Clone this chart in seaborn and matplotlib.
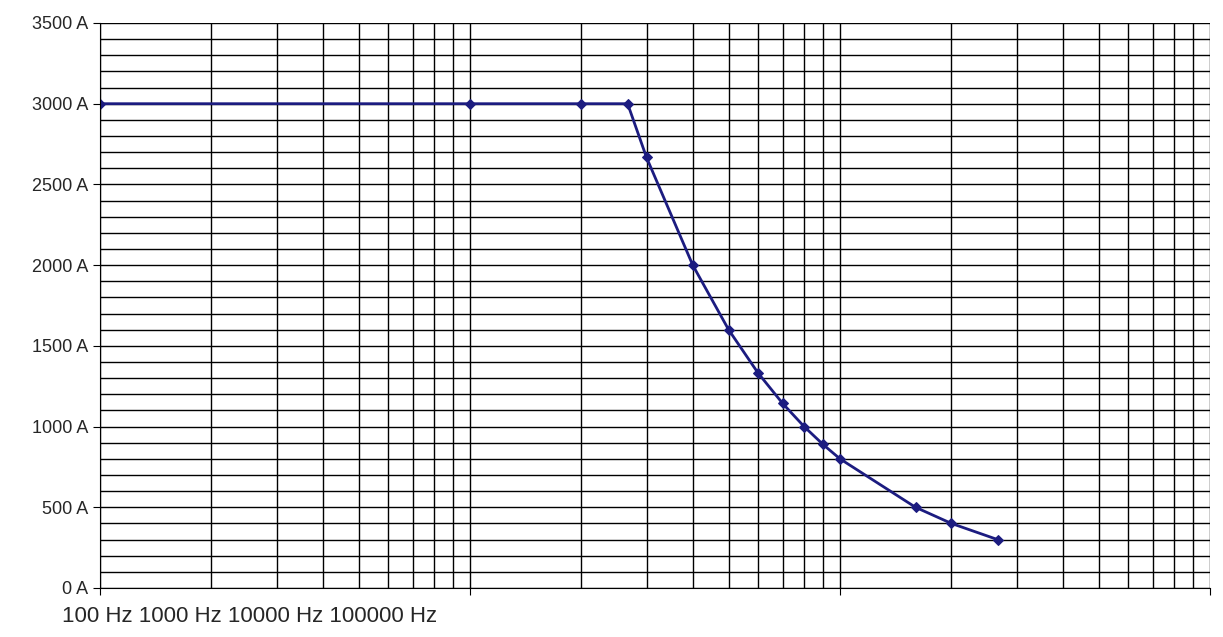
import matplotlib
matplotlib.use("Agg")
import matplotlib.pyplot as plt
import seaborn as sns
import numpy as np
import pandas as pd

freq_hz = [100, 1000, 2000, 2667, 3000, 4000, 5000, 6000, 7000, 8000, 9000, 10000, 16000, 20000, 26667]
current_a = [3000, 3000, 3000, 3000, 2667, 2000, 1600, 1333, 1143, 1000, 889, 800, 500, 400, 300]
y_ticks = [0, 500, 1000, 1500, 2000, 2500, 3000, 3500]
y_labels = ["0 A", "500 A", "1000 A", "1500 A", "2000 A", "2500 A", "3000 A", "3500 A"]
x_label_text = "100 Hz 1000 Hz 10000 Hz 100000 Hz"

sns.set_style("white")
plt.rcParams['font.family'] = ['Liberation Sans', 'DejaVu Sans']
fig = plt.figure(figsize=(12.23, 6.37), dpi=100)
ax = fig.add_axes([100/1223, 1-588/637, 1110/1223, 565/637])
df = pd.DataFrame({"f": freq_hz, "I": current_a})
sns.lineplot(data=df, x="f", y="I", ax=ax, color="#1c1c80", marker="D", markersize=5,
             markeredgecolor="#1c1c80", linewidth=2)
ax.set_xscale("log")
ax.set_xlim(100, 100000)
ax.set_ylim(0, 3500)
ax.set_xlabel(""); ax.set_ylabel("")
ax.set_yticks(y_ticks)
ax.set_yticklabels(y_labels, fontsize=13)
ax.set_yticks(np.arange(0, 3501, 100), minor=True)
ax.set_xticks([100, 1000, 10000, 100000])
ax.set_xticklabels([])
ax.set_xticks([m * 10**e for e in (2, 3, 4) for m in range(2, 10)], minor=True)
ax.set_xticklabels([], minor=True)
ax.grid(True, which="both", color="black", linewidth=1)
for s in ["top", "right"]:
    ax.spines[s].set_visible(False)
for s in ["left", "bottom"]:
    ax.spines[s].set_color("black")
ax.tick_params(axis="y", which="major", length=5, left=True, color="black")
ax.tick_params(axis="x", which="major", length=5, bottom=True, color="black")
ax.set_axisbelow(True)
fig.text(62/1223, 1-617/637, x_label_text, fontsize=16, va="center", ha="left")
fig.savefig("out.png", dpi=100)
